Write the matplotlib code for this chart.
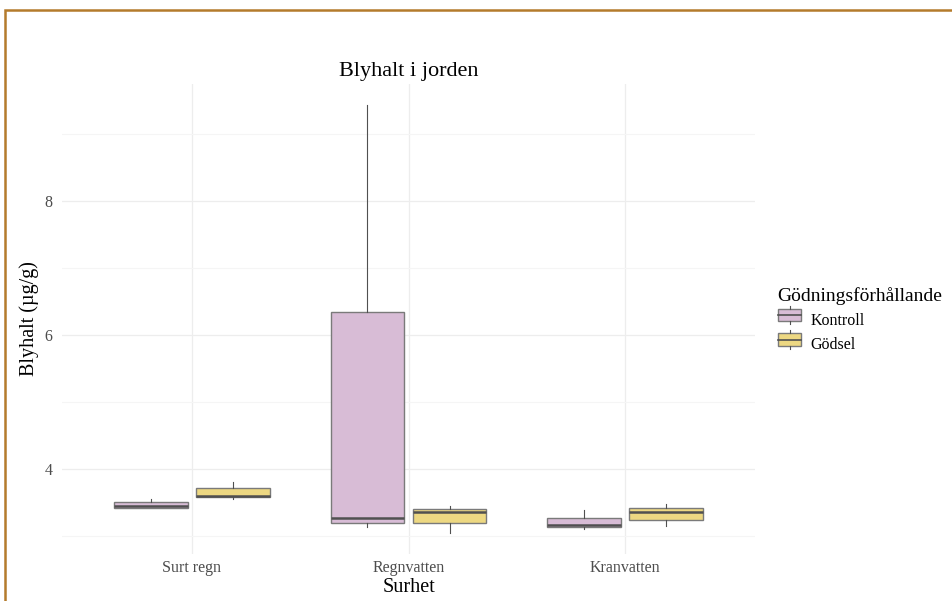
import matplotlib
matplotlib.use("Agg")
import matplotlib.pyplot as plt
from matplotlib.patches import Rectangle
from matplotlib.lines import Line2D
from matplotlib.legend_handler import HandlerBase

# data (µg/g)
categories = ["Surt regn", "Regnvatten", "Kranvatten"]
groups = ["Kontroll", "Gödsel"]
group_colors = ["#D8BCD6", "#EDD882"]

# per group: one value per category
q1 = {"Kontroll": [3.42, 3.20, 3.13], "Gödsel": [3.58, 3.20, 3.24]}
med = {"Kontroll": [3.44, 3.27, 3.16], "Gödsel": [3.60, 3.36, 3.35]}
q3 = {"Kontroll": [3.50, 6.35, 3.27], "Gödsel": [3.71, 3.40, 3.41]}
whislo = {"Kontroll": [3.42, 3.14, 3.10], "Gödsel": [3.55, 3.05, 3.15]}
whishi = {"Kontroll": [3.55, 9.43, 3.38], "Gödsel": [3.80, 3.44, 3.47]}

serif = "Liberation Serif"
plt.rcParams["font.family"] = serif

fig = plt.figure(figsize=(9.52, 6.01), dpi=100)
ax = fig.add_axes([62 / 952, 47 / 601, 693 / 952, 470 / 601])

offsets = [-0.19, 0.19]
for g, off, col in zip(groups, offsets, group_colors):
    stats = []
    for i in range(len(categories)):
        stats.append(dict(q1=q1[g][i], med=med[g][i], q3=q3[g][i],
                          whislo=whislo[g][i], whishi=whishi[g][i], fliers=[]))
    pos = [i + 1 + off for i in range(len(categories))]
    ax.bxp(stats, positions=pos, widths=0.34, patch_artist=True, showcaps=False,
           boxprops=dict(facecolor=col, edgecolor="#7a7a7a", linewidth=1.0),
           medianprops=dict(color="#505050", linewidth=1.8),
           whiskerprops=dict(color="#505050", linewidth=0.8),
           manage_ticks=False, zorder=3)

ax.set_xlim(0.4, 3.6)
ax.set_ylim(2.73, 9.75)
ax.set_xticks(range(1, len(categories) + 1))
ax.set_xticklabels(categories)
ax.set_yticks([4, 6, 8])
ax.set_yticks([3, 5, 7, 9], minor=True)
ax.grid(True, which="major", color="#EDEDED", linewidth=0.9)
ax.grid(True, which="minor", axis="y", color="#F5F5F5", linewidth=0.8)
ax.set_axisbelow(True)
for s in ax.spines.values():
    s.set_visible(False)
ax.tick_params(which="both", length=0, labelsize=11.5, labelcolor="#4D4D4D")
ax.tick_params(axis="x", pad=4)
ax.tick_params(axis="y", pad=7)

ax.set_title("Blyhalt i jorden", fontsize=16, pad=6)
ax.set_xlabel("Surhet", fontsize=14.5, labelpad=2)
ax.set_ylabel("Blyhalt (µg/g)", fontsize=14.5, labelpad=4)


class BoxKey(HandlerBase):
    def create_artists(self, legend, orig, xd, yd, w, h, fs, trans):
        col = orig.get_facecolor()
        r = Rectangle((xd + 1, yd + h * 0.1), w - 2, h * 0.8, facecolor=col,
                      edgecolor="#7a7a7a", lw=1.0, transform=trans)
        m = Line2D([xd + 1, xd + w - 1], [yd + h * 0.5] * 2, color="#505050",
                   lw=1.2, transform=trans)
        t = Line2D([xd + w / 2] * 2, [yd + h * 0.9, yd + h * 1.1], color="#505050",
                   lw=0.8, transform=trans)
        b = Line2D([xd + w / 2] * 2, [yd - h * 0.1, yd + h * 0.1], color="#505050",
                   lw=0.8, transform=trans)
        return [r, m, t, b]


handles = [Rectangle((0, 0), 1, 1, facecolor=c) for c in group_colors]
leg = fig.legend(handles, groups, handler_map={Rectangle: BoxKey()},
                 loc="upper left", bbox_to_anchor=(769 / 952, 1 - 279 / 601),
                 frameon=False, fontsize=11.5, title="Gödningsförhållande",
                 title_fontsize=14, handlelength=1.6, handleheight=1.1,
                 handletextpad=0.5, labelspacing=0.45, borderpad=0)
leg._legend_box.align = "left"

# brown frame around the figure (cropped on the right and bottom)
fig.patches.append(Rectangle((5 / 952, -0.1), 1.1, 1 - 10 / 601 + 0.1,
                             transform=fig.transFigure, fill=False,
                             edgecolor="#B47B2C", linewidth=1.8))

fig.savefig("out.png", dpi=100)
